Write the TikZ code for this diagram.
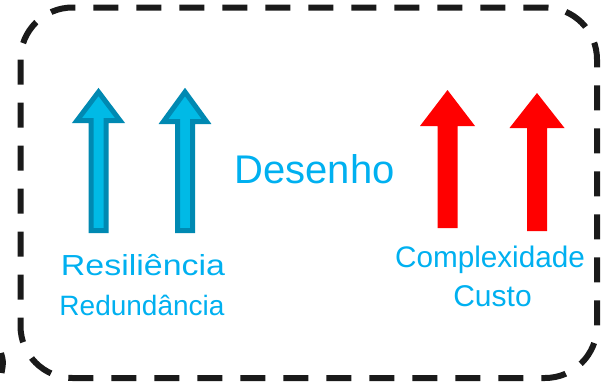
\documentclass[tikz,border=0pt]{standalone}
\usepackage{fontspec}
\setmainfont{Liberation Sans}
\usepackage{xcolor}
\usepackage{tikz}
\usetikzlibrary{positioning}
\definecolor{dsBlue}{RGB}{0, 176, 240}
\definecolor{dsTeal}{RGB}{0, 137, 178}
\definecolor{dsFill}{RGB}{0, 186, 230}
\definecolor{dsRed}{RGB}{255, 0, 0}
\definecolor{dsDark}{RGB}{26, 26, 26}
\tikzset{
    base/.style={
        font=\fontsize{29}{34}\selectfont,
        text=dsBlue,
        inner sep=0pt,
        anchor=base
    },
    title/.style={
        base,
        font=\fontsize{40}{48}\selectfont
    },
    frame/.style={
        draw=dsDark,
        line width=6pt,
        dash pattern=on 25pt off 18pt,
        rounded corners=52pt
    },
    good/.style={
        draw=dsTeal,
        fill=dsFill,
        line width=5pt,
        miter limit=10
    },
    bad/.style={
        fill=dsRed
    }
}

\begin{document}
\begin{tikzpicture}[x=1pt, y=-1pt]
  \useasboundingbox (0,0) rectangle (605,383);

  % Frame
  \draw[frame] (20.5,7.5) rectangle (597,378);
  \draw[dsDark, line width=6pt] (1,353) .. controls (3.5,362) .. (1.5,373);

  % Arrows up
  \foreach \cx/\tip/\hb/\bot in {98.5/92/120.5/230.5, 185/92/121.5/230.5}
    \draw[good] (\cx,\tip) -- (\cx+21.5,\hb) -- (\cx+7.5,\hb) -- (\cx+7.5,\bot)
      -- (\cx-7.5,\bot) -- (\cx-7.5,\hb) -- (\cx-21.5,\hb) -- cycle;
  \foreach \cx/\tip/\hb/\bot in {447.5/90/126/228, 537/93/128/231}
    \fill[bad] (\cx,\tip) -- (\cx+27.5,\hb) -- (\cx+10,\hb) -- (\cx+10,\bot)
      -- (\cx-10,\bot) -- (\cx-10,\hb) -- (\cx-27.5,\hb) -- cycle;

  % Labels
  \node[title] (desenho) at (314.5,183) {Desenho};
  \node[base] (resiliencia) at (143,275.5) {\scalebox{1.17}[1]{Resiliência}};
  \node[base, font=\fontsize{28}{34}\selectfont] (redundancia) at (142,315) {Redundância};
  \node[base, font=\fontsize{29.7}{34}\selectfont] (complexidade) at (490,267) {Complexidade};
  \node[base, font=\fontsize{30}{34}\selectfont] (custo) at (492.5,306) {Custo};
\end{tikzpicture}
\end{document}
